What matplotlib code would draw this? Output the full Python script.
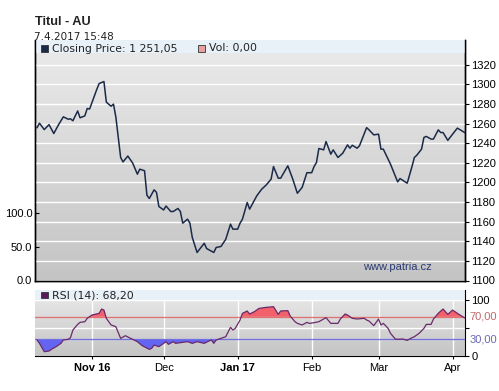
import matplotlib
matplotlib.use('Agg')
import matplotlib.pyplot as plt
import numpy as np
import pandas as pd
from matplotlib.patches import Rectangle
from matplotlib.colors import LinearSegmentedColormap

plt.rcParams['font.family'] = ['Liberation Sans', 'DejaVu Sans']

# ---------------- data ----------------
price_dates = ['2016-10-09','2016-10-10','2016-10-12','2016-10-14','2016-10-16','2016-10-18','2016-10-20','2016-10-22','2016-10-23','2016-10-24','2016-10-26','2016-10-27','2016-10-29','2016-10-30','2016-10-31',
'2016-11-03','2016-11-04','2016-11-06','2016-11-07','2016-11-09','2016-11-10','2016-11-11','2016-11-13','2016-11-14','2016-11-16','2016-11-18','2016-11-20','2016-11-21','2016-11-23','2016-11-24','2016-11-25','2016-11-27','2016-11-28','2016-11-29',
'2016-12-01','2016-12-02','2016-12-04','2016-12-05','2016-12-07','2016-12-08','2016-12-09','2016-12-11','2016-12-12','2016-12-13','2016-12-15','2016-12-18','2016-12-19','2016-12-22','2016-12-23','2016-12-25','2016-12-27','2016-12-29','2016-12-30',
'2017-01-01','2017-01-02','2017-01-03','2017-01-05','2017-01-06','2017-01-09','2017-01-11','2017-01-13','2017-01-15','2017-01-16','2017-01-18','2017-01-19','2017-01-22','2017-01-24','2017-01-26','2017-01-28','2017-01-30',
'2017-02-01','2017-02-02','2017-02-03','2017-02-04','2017-02-06','2017-02-07','2017-02-09','2017-02-10','2017-02-12','2017-02-14','2017-02-16','2017-02-17','2017-02-18','2017-02-20','2017-02-21','2017-02-24','2017-02-25','2017-02-27',
'2017-03-01','2017-03-02','2017-03-03','2017-03-06','2017-03-09','2017-03-10','2017-03-13','2017-03-15','2017-03-16','2017-03-17','2017-03-19','2017-03-20','2017-03-21','2017-03-23','2017-03-24','2017-03-26','2017-03-27','2017-03-28','2017-03-30',
'2017-04-01','2017-04-03','2017-04-06']
price_vals = [1256,1260.5,1254,1259,1250,1259,1267,1264.6,1265,1263,1273,1266,1268,1275.5,1275,
1295,1301,1303,1282,1277.8,1280,1266.6,1225.5,1221,1227,1220,1208.5,1213.6,1212,1187,1183.7,1192.5,1190,1175.5,
1172,1176,1170.4,1170.4,1173.5,1170.4,1158.5,1162.6,1158.5,1143.9,1128.6,1138,1132.6,1128.6,1133.7,1134.7,1142,1157.5,1152.4,
1152.4,1158.5,1162.6,1179.6,1172.8,1186.4,1193,1197.6,1203.4,1216.3,1204.4,1204.4,1217,1204,1189,1195,1210,
1210,1216.3,1220.4,1234.7,1233.3,1241.8,1228.9,1233.3,1225.5,1229.9,1238.4,1235,1238,1235,1237.4,1256,1253.7,1248.6,
1249.3,1234,1234,1218.7,1200.6,1204,1199.3,1216.3,1225.5,1227.8,1234,1246,1247,1244.3,1244.3,1253.7,1251,1251,1243,
1249.3,1255.5,1251.05]

rsi_dates = ['2016-10-09','2016-10-10','2016-10-12','2016-10-14','2016-10-15','2016-10-17','2016-10-19','2016-10-20','2016-10-22','2016-10-23','2016-10-24','2016-10-26','2016-10-27','2016-10-29','2016-10-30',
'2016-11-01','2016-11-04','2016-11-05','2016-11-06','2016-11-07','2016-11-08','2016-11-09','2016-11-11','2016-11-12','2016-11-13','2016-11-15','2016-11-16','2016-11-18','2016-11-20','2016-11-22','2016-11-25','2016-11-26','2016-11-27','2016-11-29','2016-11-30',
'2016-12-02','2016-12-03','2016-12-05','2016-12-06','2016-12-09','2016-12-11','2016-12-13','2016-12-15','2016-12-18','2016-12-20','2016-12-21','2016-12-22','2016-12-23','2016-12-25','2016-12-27','2016-12-29','2016-12-30','2016-12-31',
'2017-01-02','2017-01-03','2017-01-05','2017-01-06','2017-01-08','2017-01-10','2017-01-13','2017-01-16','2017-01-18','2017-01-19','2017-01-22','2017-01-23','2017-01-25','2017-01-26','2017-01-28','2017-01-30','2017-01-31',
'2017-02-02','2017-02-04','2017-02-07','2017-02-09','2017-02-12','2017-02-13','2017-02-15','2017-02-16','2017-02-18','2017-02-20','2017-02-23','2017-02-24','2017-02-25','2017-02-27',
'2017-03-01','2017-03-02','2017-03-03','2017-03-05','2017-03-06','2017-03-08','2017-03-09','2017-03-11','2017-03-13','2017-03-15','2017-03-16','2017-03-18','2017-03-20','2017-03-21','2017-03-23','2017-03-24','2017-03-26','2017-03-28','2017-03-30',
'2017-04-01','2017-04-03','2017-04-06']
rsi_vals = [28.6,22.6,7.7,8.9,11.9,16.7,22.6,28.6,29.8,32.7,46.4,56.5,60.1,61.3,67.3,
73.2,76.2,83.9,82.1,67.3,61.3,55.4,52.4,41.7,31.5,36.3,33.9,29.8,25.6,18.5,11.9,13.7,19.6,16.7,19.6,
25.6,20.8,25.6,22.6,24.4,25.6,22.6,25.6,22.6,26.8,28.6,22.6,28.6,31.5,34.5,51.2,46.4,49.4,
64.3,76.2,80.4,75,79.2,85.1,86.9,88.1,74.4,80.4,81,71.4,61.3,58.3,55.4,60.1,58.3,
59.5,61.3,68.5,58.3,58.3,66.1,75,73.2,67.3,66.1,67.3,64.3,62.5,54.2,
66.1,55.4,58.3,49.4,40.5,30.4,29.8,30.4,28,32.7,34.5,40.5,49.4,56.5,56.5,66.1,76.2,83.9,74.4,
82.1,76.2,68.2]

month_ticks = ['2016-11-01','2016-12-01','2017-01-01','2017-02-01','2017-03-01','2017-04-01']
month_labels = ['Nov 16','Dec','Jan 17','Feb','Mar','Apr']
bold_labels = ['Nov 16','Jan 17']
price_ticks = list(range(1100, 1321, 20))
vol_ticks = [0, 50, 100]
vol_labels = ['0.0', '50.0', '100.0']
rsi_upper, rsi_lower = 70, 30

px = pd.to_datetime(price_dates)
py = np.array(price_vals)
rx = pd.to_datetime(rsi_dates)
ry = np.array(rsi_vals)
mt = pd.to_datetime(month_ticks)
xl = (pd.Timestamp('2016-11-01') - pd.Timedelta(days=23.87), pd.Timestamp('2016-11-01') + pd.Timedelta(days=156.2))

# ---------------- layout ----------------
W, H = 499, 391
fig = plt.figure(figsize=(W/100, H/100), dpi=100)
fig.patch.set_facecolor('white')

def rect(x0, y0, x1, y1):
    return [x0/W, 1 - y1/H, (x1-x0)/W, (y1-y0)/H]

grad_cmap = LinearSegmentedColormap.from_list('g', ['#c4c4c4', '#ebebeb'])
grad = np.linspace(0, 1, 256).reshape(-1, 1)

main_rect = rect(35, 40, 465, 280.5)
rsi_rect = rect(35, 290, 465, 356)

bg1 = fig.add_axes(main_rect, zorder=0)
bg1.imshow(grad, aspect='auto', cmap=grad_cmap, origin='lower', extent=[0, 1, 0, 1])
bg1.axis('off')
bg2 = fig.add_axes(rsi_rect, zorder=0)
bg2.imshow(grad, aspect='auto', cmap=grad_cmap, origin='lower', extent=[0, 1, 0, 1])
bg2.axis('off')

ax_vol = fig.add_axes(main_rect, zorder=1)
ax_vol.patch.set_visible(False)
ax = ax_vol.twinx()
ax.patch.set_visible(False)

# volume axis (left)
ax_vol.set_ylim(0, 358)
ax_vol.set_yticks(vol_ticks)
ax_vol.set_yticklabels(vol_labels)
ax_vol.tick_params(axis='y', direction='in', length=3, pad=2, labelsize=8, colors='black')
ax_vol.set_xlim(*xl)
ax_vol.set_xticks(mt)
ax_vol.tick_params(axis='x', length=0, labelbottom=False)

# price axis (right)
ax.set_ylim(1100, 1345.4)
ax.set_yticks(price_ticks)
ax.tick_params(axis='y', direction='out', length=3, pad=1.5, labelsize=8)
ax.set_xlim(*xl)
ax.grid(True, color='white', lw=1.0, zorder=1)
ax.set_axisbelow(True)
ax.axhspan(1332, 1345.4, color='#e8f0f8', zorder=2, lw=0)
ax.plot(px, py, color='#1b2a48', lw=1.1, zorder=3)

for a in (ax, ax_vol):
    a.spines['top'].set_visible(False)
    for s in ('left', 'right', 'bottom'):
        a.spines[s].set_color('black')
        a.spines[s].set_linewidth(1.0)

# ---------------- RSI ----------------
ax_r = fig.add_axes(rsi_rect, zorder=1)
ax_r.patch.set_visible(False)
ax_r.set_xlim(*xl)
ax_r.set_ylim(0, 117.9)
ax_r.set_xticks(mt)
ax_r.set_xticklabels(month_labels)
for t in ax_r.get_xticklabels():
    if t.get_text() in bold_labels:
        t.set_fontweight('bold')
ax_r.tick_params(axis='x', direction='out', length=2, pad=3, labelsize=8)
ax_r.yaxis.tick_right()
ax_r.set_yticks([0, 50, 100])
ax_r.set_yticklabels(['0', '', '100'])
ax_r.tick_params(axis='y', direction='out', length=3, pad=1.5, labelsize=8)
ax_r.grid(True, color='white', lw=1.0, zorder=1)
ax_r.set_axisbelow(True)
ax_r.axhspan(100, 117.9, color='#e8f0f8', zorder=2, lw=0)
ax_r.fill_between(rx, ry, rsi_upper, where=ry >= rsi_upper, interpolate=True, color='#f2606c', lw=0, zorder=3)
ax_r.fill_between(rx, ry, rsi_lower, where=ry <= rsi_lower, interpolate=True, color='#6464f2', lw=0, zorder=3)
ax_r.axhline(rsi_upper, color='#e07070', lw=0.9, zorder=4)
ax_r.axhline(rsi_lower, color='#7070e0', lw=0.9, zorder=4)
ax_r.plot(rx, ry, color='#6a2a6a', lw=0.9, zorder=5)
yt = ax_r.get_yaxis_transform()
ax_r.text(1.01, rsi_upper, '70,00', transform=yt, color='#c06868', fontsize=8, va='center', ha='left')
ax_r.text(1.01, rsi_lower, '30,00', transform=yt, color='#6868b8', fontsize=8, va='center', ha='left')
ax_r.spines['top'].set_visible(False)
ax_r.spines['left'].set_visible(False)
ax_r.spines['right'].set_color('black')
ax_r.spines['bottom'].set_color('black')

# ---------------- texts ----------------
def ft(x, y, s, **kw):
    fig.text(x/W, 1 - y/H, s, va='center', ha='left', **kw)

ft(35, 22, 'Titul - AU', fontsize=9.2, fontweight='bold', color='#222222')
ft(34, 36.5, '7.4.2017 15:48', fontsize=7.5, family='DejaVu Sans', color='#222222')
ft(52, 48.5, 'Closing Price: 1 251,05', fontsize=7.8, family='DejaVu Sans', color='#222222')
ft(209, 48.5, 'Vol: 0,00', fontsize=7.8, family='DejaVu Sans', color='#222222')
ft(52, 295, 'RSI (14): 68,20', fontsize=7.8, family='DejaVu Sans', color='#222222')
ft(363, 267.5, 'www.patria.cz', fontsize=8, color='#2a3a70')

def sq(x0, y0, x1, y1, fc):
    fig.patches.append(Rectangle((x0/W, 1 - y1/H), (x1-x0)/W, (y1-y0)/H,
                                 transform=fig.transFigure, facecolor=fc,
                                 edgecolor='#333333', lw=0.6, zorder=10))

sq(41, 45, 47.5, 51.5, '#1b2a48')
sq(198, 45, 204.5, 51.5, '#e8a0a0')
sq(41, 291.5, 47.5, 298, '#5a1a5a')

fig.savefig('out.png', dpi=100)
